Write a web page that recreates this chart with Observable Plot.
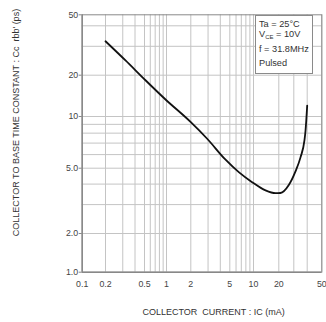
<!DOCTYPE html>
<html>
<head>
<meta charset="utf-8">
<script src="https://cdn.jsdelivr.net/npm/d3@7"></script>
<script src="https://cdn.jsdelivr.net/npm/@observablehq/plot@0.6"></script>
<style>
  html, body { margin: 0; padding: 0; background: #fff; }
  #wrap { position: relative; width: 326px; height: 322px; overflow: hidden; font-family: "Liberation Sans", Arial, sans-serif; }
  #legend { position: absolute; left: 255px; top: 15px; width: 58px; height: 59px; background: #fff; border: 1px solid #8a8a8a; font-size: 9.2px; color: #333; box-sizing: border-box; }
  #legend div { position: absolute; left: 3px; line-height: 10px; white-space: nowrap; }
  #legend sub { font-size: 6px; vertical-align: -1.5px; line-height: 0; }
</style>
</head>
<body>
<div id="wrap"></div>
<script>
// Curve (collector current mA -> time constant ps)
const current = [0.2, 0.32, 0.52, 0.97, 2, 2.94, 4.5, 6.5, 9.6, 13.9, 18.3, 20.9, 26.2, 31.1, 34.7, 37.7, 38.6, 40];
const tau     = [32.2, 24.6, 18.3, 13.3, 9.27, 7.42, 5.62, 4.73, 4.11, 3.66, 3.52, 3.53, 3.95, 4.78, 5.8, 7.25, 8.29, 12.0];

const xTicks = [0.1, 0.2, 0.5, 1, 2, 5, 10, 20, 50];
const yTicks = [1, 2, 5, 10, 20, 50];
const xGrid = [0.2,0.3,0.4,0.5,0.6,0.7,0.8,0.9,1,2,3,4,5,6,7,8,9,10,20,30,40,50];
const yGrid = [2,3,4,5,6,7,8,9,10,20,30,40];

const legendLines = ["Ta = 25\u00B0C", "V<sub>CE</sub> = 10V", "f = 31.8MHz", "Pulsed"];
const legendTops = [2.7, 13.3, 27.7, 42.3];

const data = current.map((c, i) => ({c, t: tau[i]}));

const chart = Plot.plot({
  width: 326,
  height: 322,
  marginLeft: 81.7,
  marginRight: 4.7,
  marginTop: 14.3,
  marginBottom: 50.3,
  style: {fontFamily: "Liberation Sans, Arial, sans-serif", fontSize: "8.8px", color: "#444", background: "#fff"},
  // the reference's log axes are unevenly printed; piecewise log scales follow its gridlines
  x: {type: "log", axis: null, domain: [0.1, 0.2, 0.5, 1, 2, 5, 10, 20, 30, 40, 50], range: [81.7, 105, 144, 166, 190.3, 229.3, 253, 278.3, 293.3, 306.7, 321.3]},
  y: {type: "log", axis: null, domain: [1, 2, 5, 10, 20, 40, 50], range: [271.7, 233, 167.7, 116, 74.7, 25.3, 14.3]},
  marks: [
    Plot.ruleX(xGrid, {stroke: "#c4c4c4", strokeWidth: 1}),
    Plot.ruleY(yGrid, {stroke: "#c4c4c4", strokeWidth: 1}),
    Plot.frame({stroke: "#8a8a8a", strokeWidth: 1}),
    Plot.ruleX([0.1], {stroke: "#888", strokeWidth: 1.5}),
    Plot.ruleY([1], {stroke: "#888", strokeWidth: 1.5}),
    Plot.text(xTicks, {x: d => d, frameAnchor: "bottom", lineAnchor: "middle", textAnchor: "middle", dy: 12.3, text: d => String(d), fill: "#444", fontSize: 8.8}),
    Plot.axisY({ticks: yTicks, tickFormat: d => d >= 10 ? String(d) : d.toFixed(1), tickSize: 3, tickPadding: 1, label: null, stroke: "#888", fill: "#444"}),
    Plot.line(data, {x: "c", y: "t", curve: "monotone-x", stroke: "#111", strokeWidth: 1.8}),
    Plot.text(["COLLECTOR  CURRENT : IC (mA)"], {frameAnchor: "bottom", textAnchor: "middle", lineAnchor: "middle", dx: 11.6, dy: 39.5, fontSize: 9, fill: "#333"}),
    Plot.text(["COLLECTOR TO BASE TIME CONSTANT : Cc  rbb' (ps)"], {frameAnchor: "left", textAnchor: "middle", lineAnchor: "middle", dx: -65.7, dy: -21, rotate: -90, fontSize: 9, fill: "#333"})
  ]
});

const wrap = document.getElementById("wrap");
wrap.appendChild(chart);
const lg = document.createElement("div");
lg.id = "legend";
lg.innerHTML = legendLines.map((s, i) => `<div style="top:${legendTops[i]}px">${s}</div>`).join("");
wrap.appendChild(lg);
</script>
</body>
</html>
